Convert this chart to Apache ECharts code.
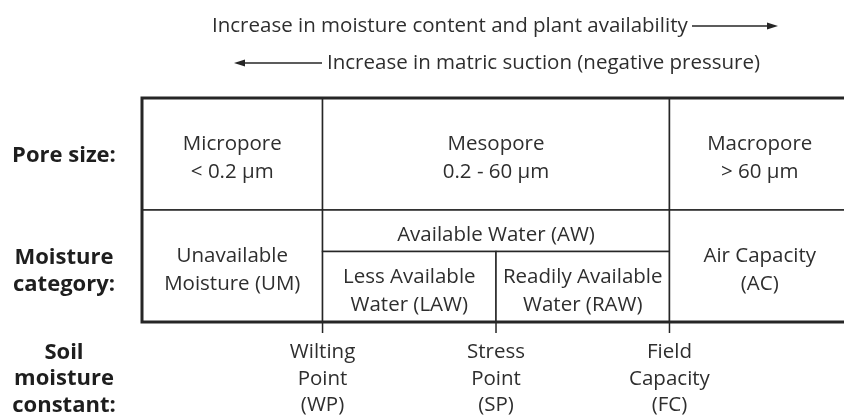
<!DOCTYPE html>
<html>
<head>
<meta charset="utf-8">
<script src="https://cdn.jsdelivr.net/npm/echarts@6/dist/echarts.min.js"></script>
<style>
html,body{margin:0;padding:0;background:#fff;}
#main{width:844px;height:417px;}
</style>
</head>
<body>
<div id="main"></div>
<script>
// x: moisture scale across the table (0 = driest edge, 100 = right edge, just past the page)
// y: table rows, 0..1 pore size, 1..2 moisture category
var constantValues = [25.5, 50, 74.5];
var constantNames = ['Wilting\nPoint\n(WP)', 'Stress\nPoint\n(SP)', 'Field\nCapacity\n(FC)'];

var rowCenters = [0.5, 1.5, 2.5];
var rowNames = ['Pore size:', 'Moisture\ncategory:', 'Soil\nmoisture\nconstant:'];

var cellX0 = [0, 25.5, 74.5, 0, 25.5, 25.5, 50, 74.5];
var cellX1 = [25.5, 74.5, 100, 25.5, 74.5, 50, 74.5, 100];
var cellY0 = [0, 0, 0, 1, 1, 1.37, 1.37, 1];
var cellY1 = [1, 1, 1, 2, 1.37, 2, 2, 2];
var cellNames = [
	'Micropore\n< 0.2 μm', 'Mesopore\n0.2 - 60 μm', 'Macropore\n> 60 μm',
	'Unavailable\nMoisture (UM)', 'Available Water (AW)',
	'Less Available\nWater (LAW)', 'Readily Available\nWater (RAW)', 'Air Capacity\n(AC)'
];

var topText = 'Increase in moisture content and plant availability';
var bottomText = 'Increase in matric suction (negative pressure)';

var font = 'Open Sans';
var fontSize = 20.5;
var lineColor = '#262626';
var textColor = '#2e2e2e';

var cellData = cellX0.map(function(x, i){
	return [x, cellX1[i], cellY0[i], cellY1[i]];
});
var rowData = rowCenters.map(function(y){ return [0, y]; });
var tickData = constantValues.map(function(x){ return [x, 2]; });

function renderCell(params, api){
	var p0 = api.coord([api.value(0), api.value(2)]);
	var p1 = api.coord([api.value(1), api.value(3)]);
	return {
		type: 'group',
		children: [{
			type: 'rect',
			shape: {x: p0[0], y: p0[1], width: p1[0] - p0[0], height: p1[1] - p0[1]},
			style: {fill: '#fff', stroke: lineColor, lineWidth: 1.5}
		}, {
			type: 'text',
			x: (p0[0] + p1[0]) / 2,
			y: (p0[1] + p1[1]) / 2 + 4,
			style: {
				text: cellNames[params.dataIndex],
				fontFamily: font, fontSize: fontSize, lineHeight: 28,
				fill: textColor, align: 'center', verticalAlign: 'middle'
			}
		}]
	};
}

function renderBorder(params, api){
	var p0 = api.coord([api.value(0), api.value(2)]);
	var p1 = api.coord([api.value(1), api.value(3)]);
	return {
		type: 'rect',
		shape: {x: p0[0], y: p0[1], width: p1[0] - p0[0], height: p1[1] - p0[1]},
		style: {fill: 'none', stroke: lineColor, lineWidth: 3}
	};
}

// short tick under the table at each soil moisture constant
function renderTick(params, api){
	var p = api.coord([api.value(0), api.value(1)]);
	return {
		type: 'line',
		shape: {x1: p[0], y1: p[1], x2: p[0], y2: p[1] + 11},
		style: {stroke: lineColor, lineWidth: 1.5}
	};
}

var rowShift = [2, 5, 1];
function renderRowName(params, api){
	var p = api.coord([api.value(0), api.value(1)]);
	return {
		type: 'text',
		x: p[0] - 78,
		y: p[1] + rowShift[params.dataIndex],
		style: {
			text: rowNames[params.dataIndex],
			fontFamily: font, fontSize: 22, fontWeight: 'bold', lineHeight: 26.5,
			fill: '#1e1e1e', align: 'center', verticalAlign: 'middle'
		}
	};
}

var chart = echarts.init(document.getElementById('main'));
chart.setOption({
	backgroundColor: '#fff',
	animation: false,
	// the table runs a little past the right edge of the page
	grid: {left: 142, right: 0, top: 98, bottom: 95, outerBoundsMode: 'none', containLabel: false},
	xAxis: {
		type: 'value', min: 0, max: 99.15,
		axisLine: {show: false},
		splitLine: {show: false},
		axisTick: {show: false},
		axisLabel: {
			customValues: constantValues, margin: 17,
			fontFamily: font, fontSize: fontSize, lineHeight: 26.5, color: textColor,
			verticalAlign: 'top',
			formatter: function(v){
				for (var i = 0; i < constantValues.length; i++) {
					if (Math.abs(constantValues[i] - v) < 0.01) return constantNames[i];
				}
				return '';
			}
		}
	},
	yAxis: {
		type: 'value', min: 0, max: 2, inverse: true, show: false
	},
	graphic: [
		{type: 'text', x: 212, y: 26, style: {text: topText, fontFamily: font, fontSize: fontSize, fill: textColor, verticalAlign: 'middle'}},
		{type: 'line', shape: {x1: 692, y1: 26, x2: 770, y2: 26}, style: {stroke: lineColor, lineWidth: 1.5}},
		{type: 'polygon', shape: {points: [[778, 26], [767, 22.5], [767, 29.5]]}, style: {fill: lineColor}},
		{type: 'text', x: 327, y: 63, style: {text: bottomText, fontFamily: font, fontSize: fontSize, fill: textColor, verticalAlign: 'middle'}},
		{type: 'line', shape: {x1: 242, y1: 63, x2: 322, y2: 63}, style: {stroke: lineColor, lineWidth: 1.5}},
		{type: 'polygon', shape: {points: [[234, 63], [245, 59.5], [245, 66.5]]}, style: {fill: lineColor}}
	],
	series: [{
		type: 'custom',
		renderItem: renderCell,
		data: cellData,
		clip: false,
		z: 2
	}, {
		type: 'custom',
		renderItem: renderBorder,
		data: [[0, 100, 0, 2]],
		clip: false,
		z: 3
	}, {
		type: 'custom',
		renderItem: renderTick,
		data: tickData,
		clip: false,
		z: 3
	}, {
		type: 'custom',
		renderItem: renderRowName,
		data: rowData,
		clip: false,
		z: 3
	}]
});
</script>
</body>
</html>
